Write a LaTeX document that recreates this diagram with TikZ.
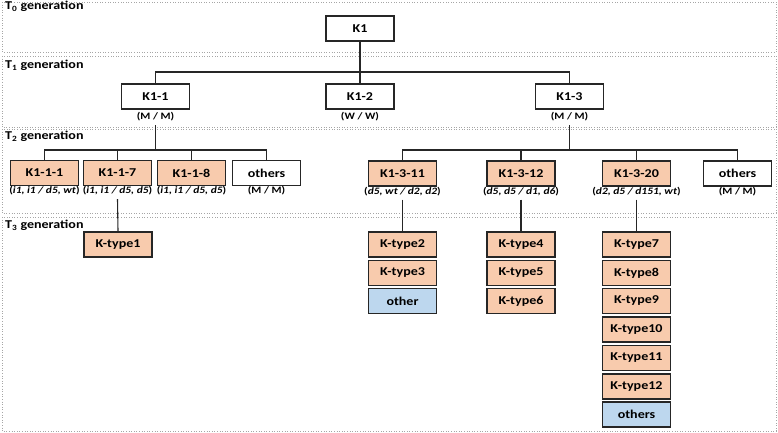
\documentclass[tikz,border=0pt]{standalone}
\usepackage{fontspec}
\setmainfont{Carlito}[FakeStretch=1.17]
\definecolor{salmon}{HTML}{F8CBAD}
\definecolor{lightblue}{HTML}{BDD7EE}
\definecolor{bordc}{HTML}{262626}
\begin{document}
\begin{tikzpicture}[x=1pt,y=-1pt,
 band/.style={draw=black!35, dotted, line width=0.6pt},
 genlab/.style={anchor=base west, inner sep=0pt, font=\fontsize{12}{14}\selectfont\bfseries},
 box/.style={draw=bordc, line width=1.3pt, minimum width=68pt, minimum height=25pt, inner sep=0pt, font=\fontsize{12}{14}\selectfont\bfseries},
 kbox/.style={box, fill=salmon},
 obox/.style={box, fill=lightblue},
 wbox/.style={box, fill=white},
 sublab/.style={font=\fontsize{9.8}{11}\selectfont\bfseries, inner xsep=0pt, inner ysep=3.5pt},
 conn/.style={draw=bordc, line width=1.1pt}]
\useasboundingbox (0,0) rectangle (778,433);
% bands
\draw[band] (2,2) rectangle (776,52);
\draw[band] (2,56) rectangle (776,127);
\draw[band] (2,129) rectangle (776,213);
\draw[band] (2,217) rectangle (776,431);
\node[genlab] (g0) at (5,9.5) {T\textsubscript{0} generation};
\node[genlab] (g1) at (5,69) {T\textsubscript{1} generation};
\node[genlab] (g2) at (5,139.7) {T\textsubscript{2} generation};
\node[genlab] (g3) at (5,228.5) {T\textsubscript{3} generation};
% T0
\node[wbox] (K1) at (360,28.5) {K1};
% T1
\node[wbox] (K11) at (155.5,96.5) {K1-1};
\node[wbox] (K12) at (360,96.5) {K1-2};
\node[wbox] (K13) at (569.5,96.5) {K1-3};
\node[sublab] (K11l) at (155.5,117) {(M / M)};
\node[sublab] (K12l) at (360,117) {(W / W)};
\node[sublab] (K13l) at (569.5,117) {(M / M)};
\coordinate (b1) at (0,72);
\draw[conn] (K1.south) -- (K12.north);
\draw[conn] (K11.north) -- (K11.north |- b1) -- (K13.north |- b1) -- (K13.north);
% T2 left
\node[kbox] (K111) at (44.5,173) {K1-1-1};
\node[kbox] (K117) at (117.5,173) {K1-1-7};
\node[kbox] (K118) at (191.5,173) {K1-1-8};
\node[wbox] (K1o) at (266.5,173) {others};
\node[sublab] (K111l) at (44.5,191) {(\textit{i1, i1 / d5, wt})};
\node[sublab] (K117l) at (117.5,191) {(\textit{i1, i1 / d5, d5})};
\node[sublab] (K118l) at (191.5,191) {(\textit{i1, i1 / d5, d5})};
\node[sublab] (K1ol) at (266.5,191) {(M / M)};
\coordinate (b2) at (0,150);
\draw[conn] (K11l.south) -- (K11l.south |- b2);
\draw[conn] (K111.north) -- (K111.north |- b2) -- (K1o.north |- b2) -- (K1o.north);
\draw[conn] (K117.north) -- (K117.north |- b2);
\draw[conn] (K118.north) -- (K118.north |- b2);
% T2 right
\node[kbox] (K1311) at (402.5,173.5) {K1-3-11};
\node[kbox] (K1312) at (521,173.5) {K1-3-12};
\node[kbox] (K1320) at (636.5,173.5) {K1-3-20};
\node[wbox] (K13o) at (737.5,173.5) {others};
\node[sublab] (K1311l) at (402.5,191.5) {(\textit{d5, wt / d2, d2})};
\node[sublab] (K1312l) at (521,191.5) {(\textit{d5, d5 / d1, d6})};
\node[sublab] (K1320l) at (636.5,191.5) {(\textit{d2, d5 / d151, wt})};
\node[sublab] (K13ol) at (737.5,191.5) {(M / M)};
\draw[conn] (K13l.south) -- (K13l.south |- b2);
\draw[conn] (K1311.north) -- (K1311.north |- b2) -- (K13o.north |- b2) -- (K13o.north);
\draw[conn] (K1312.north) -- (K1312.north |- b2);
\draw[conn] (K1320.north) -- (K1320.north |- b2);
% T3
\node[kbox] (kt1) at (118,244.5) {K-type1};
\draw[conn] (K117l.south) -- (kt1.north);
\node[kbox] (kt2) at (402.5,244.5) {K-type2};
\node[kbox] (kt3) at (402.5,273) {K-type3};
\node[obox] (ot1) at (402.5,301) {other};
\draw[conn] (K1311l.south) -- (kt2.north);
\node[kbox] (kt4) at (521,244.5) {K-type4};
\node[kbox] (kt5) at (521,273) {K-type5};
\node[kbox] (kt6) at (521,301) {K-type6};
\draw[conn] (K1312l.south) -- (kt4.north);
\node[kbox] (kt7) at (636.5,244.5) {K-type7};
\node[kbox] (kt8) at (636.5,273) {K-type8};
\node[kbox] (kt9) at (636.5,301) {K-type9};
\node[kbox] (kt10) at (636.5,329.5) {K-type10};
\node[kbox] (kt11) at (636.5,358) {K-type11};
\node[kbox] (kt12) at (636.5,386.5) {K-type12};
\node[obox] (ot2) at (636.5,414.5) {others};
\draw[conn] (K1320l.south) -- (kt7.north);
\end{tikzpicture}
\end{document}
